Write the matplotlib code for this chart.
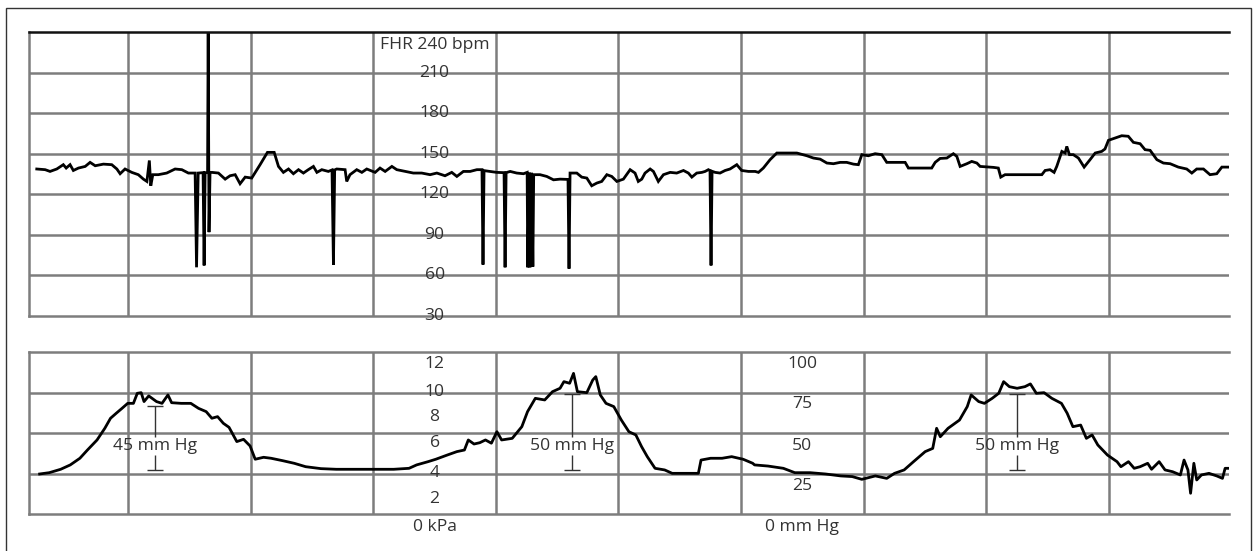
import matplotlib.pyplot as plt
from matplotlib.patches import Rectangle

plt.rcParams['font.family'] = ['Open Sans', 'DejaVu Sans']

# ================================================================================================
# Trace data (time in seconds, FHR in bpm, UC in mm Hg)
# ================================================================================================

fhr_time = [15.3, 19.4, 21.8, 25.1, 28.3, 29.7, 31.6, 33.2, 35.7, 39.0, 41.4, 43.9, 47.9, 52.0,
            54.5, 56.1, 58.5, 61.8, 65.0, 67.5, 69.2, 70.4, 71.1, 72.1, 74.8, 78.9, 83.0, 86.3,
            89.5, 92.8, 93.5, 94.3, 96.7, 97.2, 97.7, 98.9, 99.2, 99.6, 100.1, 101.0, 104.2,
            107.5, 109.9, 112.4, 114.8, 117.3, 120.5, 124.6, 128.2, 131.5, 133.6, 136.0, 138.5,
            140.9, 143.4, 145.8, 148.2, 150.7, 152.4, 154.8, 158.0, 159.8, 160.5, 161.1, 162.1,
            166.2, 167.0, 168.6, 171.9, 174.4, 176.8, 180.9, 183.3, 185.8, 189.1, 191.5, 195.6,
            199.6, 203.7, 207.8, 211.1, 215.1, 218.4, 220.9, 224.1, 227.4, 230.7, 233.2, 233.7,
            234.2, 237.2, 240.4, 244.0, 244.5, 245.0, 247.0, 250.2, 253.5, 255.3, 255.6, 256.3,
            256.7, 257.5, 258.1, 258.5, 261.6, 264.9, 268.2, 271.4, 275.3, 275.8, 276.3, 279.6,
            282.0, 284.5, 286.9, 289.4, 291.8, 294.3, 296.7, 299.2, 302.4, 305.7, 308.1, 309.7,
            311.4, 313.0, 315.5, 317.1, 319.5, 322.0, 325.3, 328.5, 331.8, 334.2, 335.9, 338.3,
            340.8, 342.4, 344.0, 344.8, 345.3, 345.8, 347.3, 349.7, 352.2, 354.6, 357.9, 360.3,
            363.6, 366.9, 368.5, 370.9, 374.2, 377.5, 382.4, 387.3, 392.2, 395.4, 398.7, 402.0,
            405.2, 408.5, 411.7, 415.0, 417.4, 419.1, 422.3, 425.6, 428.9, 431.3, 436.2, 440.3,
            441.9, 447.6, 453.3, 455.0, 457.4, 460.7, 463.9, 465.6, 467.2, 470.5, 472.9, 475.4,
            477.0, 483.5, 485.9, 487.1, 489.2, 498.2, 507.2, 508.8, 511.2, 513.2, 514.5, 517.0,
            518.6, 519.4, 520.7, 522.6, 525.1, 527.9, 530.8, 533.3, 536.5, 538.1, 539.8, 543.0,
            546.3, 549.5, 552.0, 555.3, 557.7, 560.2, 563.5, 566.7, 570.0, 574.0, 578.1, 580.6,
            583.0, 586.3, 589.5, 592.8, 595.3, 598.8]
fhr_bpm = [138.7, 138.2, 136.9, 138.7, 141.9, 139.4, 141.9, 137.6, 139.4, 140.6, 143.6, 141.1,
           142.3, 141.9, 138.7, 135.2, 138.7, 136.2, 134.5, 131.2, 129.5, 145.0, 126.3, 134.5,
           134.5, 135.7, 138.7, 138.2, 135.7, 135.7, 66.0, 135.7, 136.0, 67.4, 136.0, 136.0,
           245.0, 92.0, 136.0, 136.2, 135.7, 131.2, 133.7, 134.5, 127.8, 132.7, 132.0, 141.9,
           151.0, 151.0, 140.6, 136.2, 138.7, 135.2, 138.2, 135.7, 138.2, 140.6, 136.2, 138.2,
           136.9, 138.0, 68.0, 138.0, 138.7, 138.2, 129.5, 134.5, 138.2, 136.2, 138.7, 136.2,
           139.4, 136.9, 140.6, 138.2, 136.9, 135.7, 135.7, 134.5, 135.7, 133.7, 136.2, 133.2,
           136.9, 136.9, 138.2, 138.2, 68.0, 137.5, 136.9, 136.2, 136.0, 66.0, 136.0, 136.9,
           135.7, 135.2, 136.2, 66.0, 136.0, 66.0, 136.0, 66.5, 134.5, 134.5, 133.2, 130.7,
           131.2, 131.0, 65.0, 135.7, 135.7, 132.7, 132.0, 126.3, 128.3, 129.5, 134.5, 133.2,
           129.5, 131.2, 138.2, 135.7, 129.5, 131.2, 135.7, 138.7, 136.9, 129.5, 134.5, 136.2,
           135.7, 137.6, 135.7, 132.7, 135.7, 136.2, 136.9, 138.2, 137.5, 67.4, 137.0, 136.2,
           135.7, 137.6, 138.7, 141.9, 137.6, 136.9, 136.9, 136.2, 139.4, 145.6, 150.5, 150.5,
           150.5, 148.5, 146.8, 146.0, 143.1, 142.6, 143.6, 143.6, 142.3, 141.9, 149.3, 148.5,
           150.0, 149.3, 143.6, 143.6, 143.6, 139.4, 139.4, 139.4, 143.6, 146.5, 146.8, 150.0,
           148.0, 140.6, 142.6, 144.3, 143.1, 140.6, 139.9, 139.4, 132.7, 134.5, 134.5, 134.5,
           137.6, 138.2, 136.2, 140.6, 151.7, 150.5, 155.4, 149.3, 149.3, 146.8, 140.1, 145.6,
           150.5, 151.7, 153.5, 159.9, 161.6, 163.3, 162.9, 158.4, 157.4, 153.0, 152.5, 145.6,
           143.1, 142.6, 140.1, 138.7, 135.7, 138.7, 138.7, 134.5, 135.2, 140.1, 140.1]

uc_time = [16.7, 21.4, 27.0, 31.7, 36.4, 40.1, 44.8, 48.6, 51.4, 54.2, 57.0, 59.8, 62.6, 64.5,
           66.4, 67.8, 70.1, 73.9, 76.6, 79.5, 81.3, 86.0, 90.7, 94.5, 98.2, 101.0, 103.8, 106.6,
           109.4, 113.2, 116.5, 119.7, 122.2, 126.3, 130.0, 135.7, 141.3, 146.9, 154.4, 161.9,
           171.2, 180.6, 190.0, 197.5, 201.2, 206.8, 210.6, 216.2, 220.9, 224.6, 226.5, 229.3,
           232.1, 234.9, 237.8, 240.5, 242.8, 248.0, 252.7, 255.5, 259.3, 263.9, 267.7, 271.4,
           273.3, 276.1, 278.0, 279.9, 284.5, 287.4, 288.9, 291.1, 293.9, 297.7, 301.4, 305.1,
           308.5, 311.3, 314.1, 317.9, 322.6, 326.3, 331.9, 339.1, 340.4, 345.1, 350.7, 355.4,
           361.0, 365.7, 366.6, 373.2, 380.7, 386.3, 393.8, 401.3, 408.8, 414.4, 419.1, 425.7,
           431.3, 435.1, 439.8, 444.4, 450.1, 453.8, 455.7, 457.5, 461.3, 466.9, 470.7, 472.6,
           476.3, 479.1, 482.9, 486.1, 488.5, 491.3, 495.1, 498.9, 501.6, 504.5, 508.3, 512.1,
           516.8, 519.6, 522.4, 526.2, 529.0, 531.8, 534.6, 539.3, 544.0, 545.9, 549.6, 552.4,
           555.3, 559.0, 560.9, 564.6, 567.5, 571.2, 575.0, 576.8, 578.7, 580.0, 581.6, 583.0,
           585.3, 589.0, 592.8, 595.6, 596.9, 598.8]
uc_mmhg = [24.7, 25.5, 27.6, 30.3, 34.4, 39.5, 45.7, 52.9, 59.1, 62.2, 65.2, 68.3, 68.3, 74.5,
           74.9, 69.4, 72.9, 69.4, 68.3, 73.5, 68.7, 68.3, 68.3, 65.2, 63.2, 59.1, 60.1, 56.0,
           53.5, 44.7, 46.1, 42.0, 33.8, 35.0, 34.4, 32.9, 31.3, 29.2, 28.0, 27.6, 27.6, 27.6,
           27.6, 28.2, 30.3, 32.3, 33.8, 36.4, 38.5, 39.5, 45.7, 43.2, 44.0, 45.7, 43.7, 50.8,
           45.7, 46.7, 53.9, 63.2, 71.4, 70.4, 75.5, 77.6, 81.7, 80.7, 86.8, 75.5, 74.9, 82.7,
           84.8, 73.5, 68.3, 66.3, 58.0, 50.8, 48.8, 41.6, 35.4, 28.2, 27.2, 25.1, 25.1, 25.1,
           33.3, 34.4, 34.4, 35.4, 33.8, 31.3, 30.3, 29.6, 28.2, 25.5, 25.5, 24.7, 23.5, 23.1,
           21.4, 23.5, 22.0, 25.1, 27.2, 32.3, 38.5, 40.5, 52.9, 47.7, 52.9, 58.0, 66.3, 73.5,
           69.4, 68.3, 71.4, 74.5, 81.7, 78.6, 77.6, 78.6, 80.3, 74.5, 74.9, 71.4, 68.3, 62.2,
           53.9, 54.9, 46.7, 48.8, 42.6, 36.4, 32.3, 29.2, 32.3, 28.2, 29.2, 31.3, 27.6, 32.3,
           27.2, 26.1, 24.1, 33.3, 27.2, 12.8, 31.3, 21.0, 24.1, 25.1, 23.5, 22.0, 28.2, 28.2]

# contraction amplitude markers
peak_time = [73.2, 277.1, 494.9]
peak_top = [66.7, 74.1, 74.1]
peak_base = [27.2, 27.2, 27.2]
peak_label = ['45 mm Hg', '50 mm Hg', '50 mm Hg']

# scale labels printed on the paper
fhr_scale = [210, 180, 150, 120, 90, 60, 30]
kpa_scale = ['12', '10', '8', '6', '4', '2', '0 kPa']
kpa_scale_y = [92.6, 75.3, 59.9, 43.8, 25.3, 9.3, -8.0]
mmhg_scale = ['100', '75', '50', '25', '0 mm Hg']
mmhg_scale_y = [92.6, 67.9, 42.0, 17.3, -8.0]

# ================================================================================================
# Plot the strip
# ================================================================================================

W, H = 1258, 551
grid_col = '#7d7d7d'
text_col = '#333333'
fs = 12.6

fig = plt.figure(figsize=(W / 100, H / 100), dpi=100)
fig.patches.append(Rectangle((5.5 / W, -0.05), 1245 / W, 1 - 7.5 / H + 0.05,
                             transform=fig.transFigure, fill=False, ec='#333333', lw=1.0))

ax_fhr = fig.add_axes([29 / W, 1 - 316 / H, 1200 / W, 284 / H])
ax_uc = fig.add_axes([29 / W, 1 - 514 / H, 1200 / W, 162 / H])

for ax in (ax_fhr, ax_uc):
    ax.set_xlim(11.5, 598.8)
    ax.set_xticks(range(60, 541, 60))
    ax.tick_params(length=0, labelleft=False, labelbottom=False)
    ax.grid(True, color=grid_col, lw=1.8)
    ax.set_axisbelow(True)
    for side in ('left', 'bottom', 'top'):
        ax.spines[side].set_color(grid_col)
        ax.spines[side].set_linewidth(1.8)
    ax.spines['right'].set_visible(False)

ax_fhr.set_ylim(30, 240)
ax_fhr.set_yticks(range(60, 211, 30))
ax_fhr.spines['top'].set_color('#111111')
ax_fhr.plot(fhr_time, fhr_bpm, color='black', lw=2.0, solid_joinstyle='miter')

ax_uc.set_ylim(0, 100)
ax_uc.set_yticks([25, 50, 75])
ax_uc.plot(uc_time, uc_mmhg, color='black', lw=2.0)

# FHR scale
ax_fhr.text(210, 230.4, 'FHR 240 bpm', ha='center', va='center', fontsize=fs, color=text_col)
for v in fhr_scale:
    ax_fhr.text(210, v, str(v), ha='center', va='center', fontsize=fs, color=text_col)

# UC scales
for lab, y in zip(kpa_scale, kpa_scale_y):
    ax_uc.text(210, y, lab, ha='center', va='center', fontsize=fs, color=text_col)
for lab, y in zip(mmhg_scale, mmhg_scale_y):
    ax_uc.text(390, y, lab, ha='center', va='center', fontsize=fs, color=text_col)

# amplitude bars
for t, top, base, lab in zip(peak_time, peak_top, peak_base, peak_label):
    ax_uc.vlines(t, 47.5, top, color=text_col, lw=1.0)
    ax_uc.vlines(t, base, 36.4, color=text_col, lw=1.0)
    ax_uc.hlines([top, base], t - 3.9, t + 3.9, color=text_col, lw=1.0)
    ax_uc.text(t, 42, lab, ha='center', va='center', fontsize=fs, color=text_col)

plt.savefig('out.png', dpi=100)
